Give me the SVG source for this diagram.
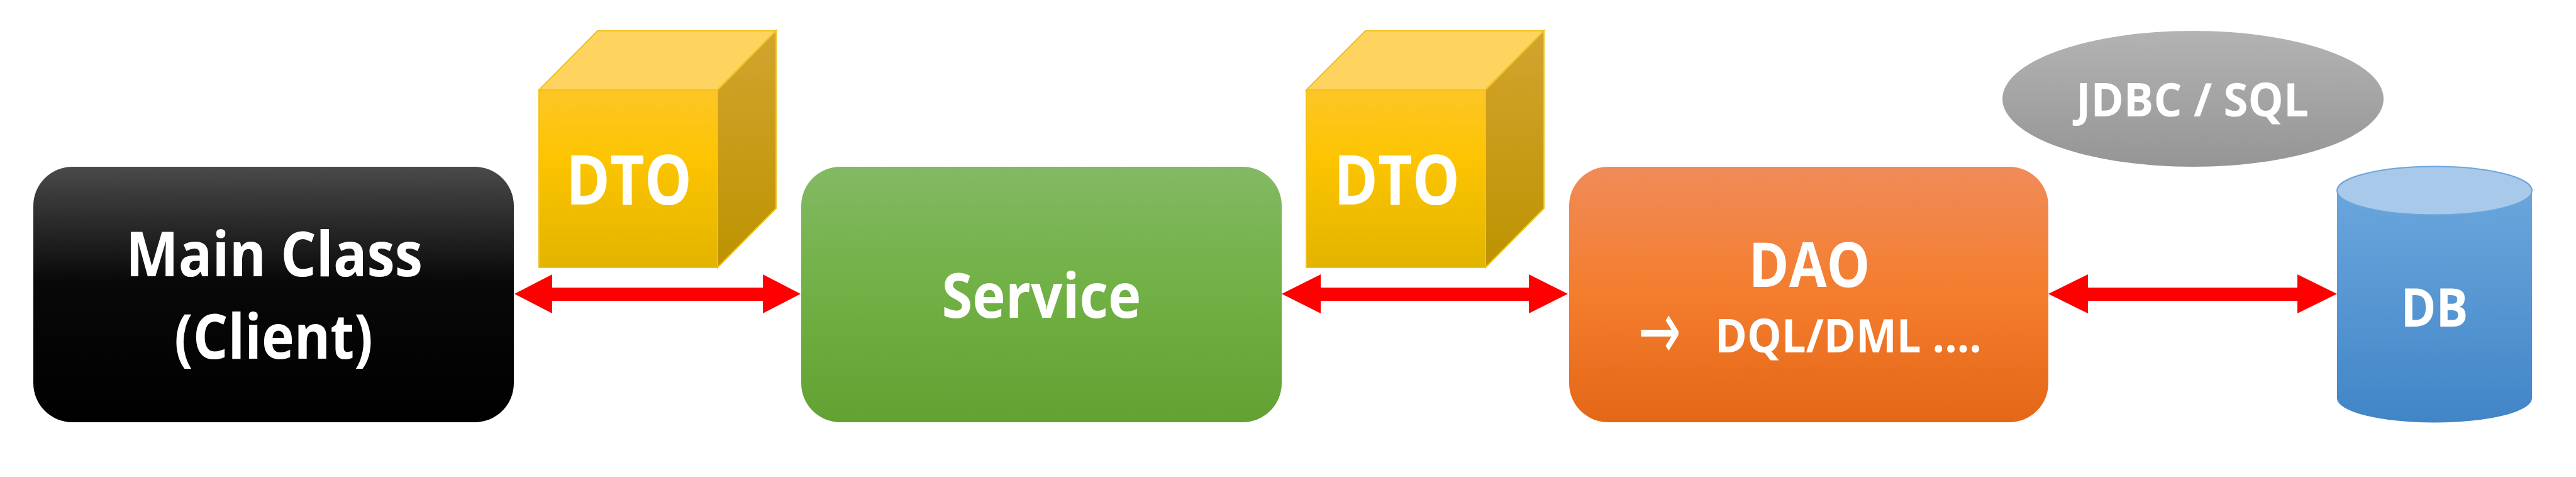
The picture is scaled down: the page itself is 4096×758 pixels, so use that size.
<svg xmlns="http://www.w3.org/2000/svg" width="4096" height="758" viewBox="0 0 4096 758">
<defs>
<style>
.t{font-family:"Open Sans","Liberation Sans",sans-serif;font-weight:bold;fill:#fff;text-anchor:middle}
.arr{fill:#ff0000}
.dtoedge{stroke:#f2c21a;stroke-width:2}
</style>
<linearGradient id="gBlack" x1="0" y1="0" x2="0" y2="1"><stop offset="0" stop-color="#4a4a4a"/><stop offset="0.45" stop-color="#080808"/><stop offset="1" stop-color="#000"/></linearGradient>
<linearGradient id="gGreen" x1="0" y1="0" x2="0" y2="1"><stop offset="0" stop-color="#83b964"/><stop offset="0.5" stop-color="#70b044"/><stop offset="1" stop-color="#62a132"/></linearGradient>
<linearGradient id="gOrange" x1="0" y1="0" x2="0" y2="1"><stop offset="0" stop-color="#f08b59"/><stop offset="0.5" stop-color="#f47d2d"/><stop offset="1" stop-color="#e36717"/></linearGradient>
<linearGradient id="gFront" x1="0" y1="0" x2="0" y2="1"><stop offset="0" stop-color="#fec626"/><stop offset="0.4" stop-color="#fcc400"/><stop offset="1" stop-color="#e2b400"/></linearGradient>
<linearGradient id="gSide" x1="0" y1="0" x2="0" y2="1"><stop offset="0" stop-color="#d2a42f"/><stop offset="1" stop-color="#bd9300"/></linearGradient>
<linearGradient id="gGray" x1="0" y1="0" x2="0" y2="1"><stop offset="0" stop-color="#b3b3b3"/><stop offset="1" stop-color="#959595"/></linearGradient>
<linearGradient id="gBlue" x1="0" y1="0" x2="0" y2="1"><stop offset="0" stop-color="#6aa6dc"/><stop offset="1" stop-color="#4185c7"/></linearGradient>
</defs>
<rect width="4096" height="758" fill="#fff"/>

<g id="main-class">
<rect x="53" y="265" width="764" height="406" rx="62" ry="62" fill="url(#gBlack)"/>
<text class="t" x="436" y="439" font-size="98" textLength="472" lengthAdjust="spacingAndGlyphs">Main Class</text>
<text class="t" x="435" y="570" font-size="98" textLength="316" lengthAdjust="spacingAndGlyphs">(Client)</text>
</g>

<g id="dto-1">
<polygon points="857,143 950,49 1234,49 1141,143" fill="#ffd35f" class="dtoedge"/>
<polygon points="1141,143 1234,49 1234,331 1141,425" fill="url(#gSide)" class="dtoedge"/>
<rect x="857" y="143" width="284" height="282" fill="url(#gFront)" class="dtoedge"/>
<text class="t" x="1000" y="325" font-size="109" textLength="200" lengthAdjust="spacingAndGlyphs">DTO</text>
</g>

<g id="service">
<rect x="1274" y="265" width="764" height="406" rx="62" ry="62" fill="url(#gGreen)"/>
<text class="t" x="1656" y="505" font-size="99" textLength="317" lengthAdjust="spacingAndGlyphs">Service</text>
</g>

<g id="dto-2">
<polygon points="2077,143 2171,49 2455,49 2362,143" fill="#ffd35f" class="dtoedge"/>
<polygon points="2362,143 2455,49 2455,331 2362,425" fill="url(#gSide)" class="dtoedge"/>
<rect x="2077" y="143" width="285" height="282" fill="url(#gFront)" class="dtoedge"/>
<text class="t" x="2221" y="325" font-size="109" textLength="200" lengthAdjust="spacingAndGlyphs">DTO</text>
</g>

<g id="dao">
<rect x="2495" y="265" width="762" height="406" rx="62" ry="62" fill="url(#gOrange)"/>
<text class="t" x="2877" y="456" font-size="99" textLength="193" lengthAdjust="spacingAndGlyphs">DAO</text>
<text class="t" x="2939" y="560" font-size="74" textLength="424" lengthAdjust="spacingAndGlyphs">DQL/DML ....</text>
<text x="2639" y="570" font-family="DejaVu Sans, sans-serif" font-size="130" fill="#fff" text-anchor="middle" textLength="68" lengthAdjust="spacingAndGlyphs">→</text>
</g>

<g id="jdbc-sql">
<ellipse cx="3487" cy="157" rx="303" ry="108" fill="url(#gGray)"/>
<text class="t" x="3486" y="185" font-size="73" textLength="370" lengthAdjust="spacingAndGlyphs">JDBC / SQL</text>
</g>

<g id="db">
<path d="M3716,303 L3716,633 A155,38.5 0 0 0 4026,633 L4026,303 Z" fill="url(#gBlue)"/>
<ellipse cx="3871" cy="303" rx="155" ry="38.5" fill="#a8c9ea" stroke="#6aa6dc" stroke-width="2"/>
<text class="t" x="3871" y="519" font-size="85" textLength="107" lengthAdjust="spacingAndGlyphs">DB</text>
</g>

<g id="connectors">
<polygon class="arr" points="818,467 878,436 878,457 1213,457 1213,436 1273,467 1213,498 1213,478 878,478 878,498"/>
<polygon class="arr" points="2038,467 2100,436 2100,457 2431,457 2431,436 2493,467 2431,498 2431,478 2100,478 2100,498"/>
<polygon class="arr" points="3257,467 3320,436 3320,457 3653,457 3653,436 3716,467 3653,498 3653,478 3320,478 3320,498"/>
</g>
</svg>
